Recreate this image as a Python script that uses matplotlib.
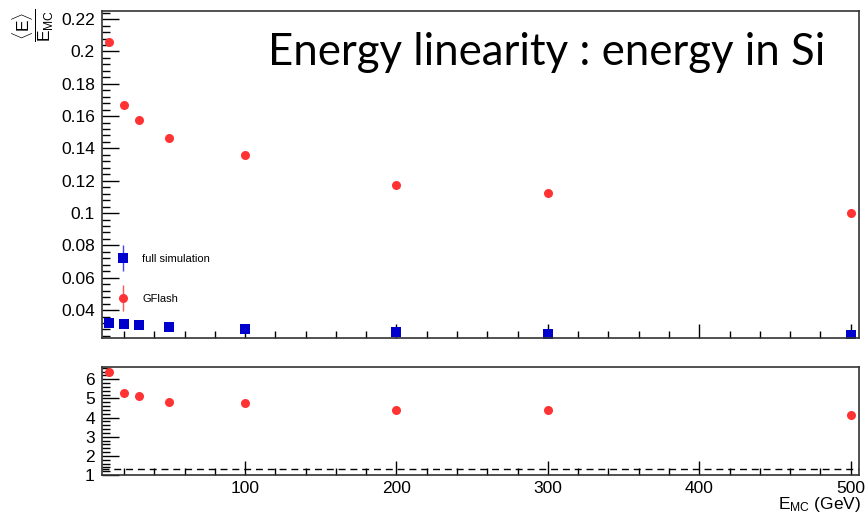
import matplotlib
matplotlib.use("Agg")
import matplotlib.pyplot as plt
from matplotlib.ticker import MultipleLocator, FixedLocator
from matplotlib.legend_handler import HandlerErrorbar
from matplotlib.container import ErrorbarContainer

plt.rcParams['font.family'] = ['Liberation Sans', 'DejaVu Sans']
plt.rcParams['mathtext.fontset'] = 'custom'
plt.rcParams['mathtext.rm'] = 'Liberation Sans'
plt.rcParams['mathtext.it'] = 'Liberation Sans'
plt.rcParams['mathtext.sf'] = 'Liberation Sans'

# ---- data ----
energy = [10, 20, 30, 50, 100, 200, 300, 500]
full_sim = [0.0318, 0.0311, 0.0307, 0.0297, 0.0281, 0.0264, 0.0253, 0.0245]
gflash = [0.2056, 0.1668, 0.1575, 0.1464, 0.1358, 0.1173, 0.1123, 0.0999]
ratio = [6.36, 5.27, 5.10, 4.83, 4.75, 4.39, 4.40, 4.14]
ratio_ref = 1.33
x_ticks = [100, 200, 300, 400, 500]
top_yticks = [0.04, 0.06, 0.08, 0.1, 0.12, 0.14, 0.16, 0.18, 0.2, 0.22]
top_ylabels = ['0.04', '0.06', '0.08', '0.1', '0.12', '0.14', '0.16', '0.18', '0.2', '0.22']
bot_yticks = [1, 2, 3, 4, 5, 6]

RED = '#ff3333'
BLUE = '#0000cc'

fig = plt.figure(figsize=(8.66, 5.15), dpi=100)
W, H = 866, 515
left, right = 101.7 / W, 859.3 / W
ax1 = fig.add_axes([left, 1 - 338 / H, right - left, (338 - 10.7) / H])
ax2 = fig.add_axes([left, 1 - 475 / H, right - left, (475 - 367.3) / H])

xlim = (5.3, 505.7)

e1 = ax1.errorbar(energy, full_sim, yerr=[0] * len(energy), fmt='s', color=BLUE,
                  ecolor='#4444ee', elinewidth=1, ms=7, mew=0, label='full simulation')
e2 = ax1.errorbar(energy, gflash, yerr=[0] * len(energy), fmt='o', color=RED,
                  ecolor='#ff5555', elinewidth=1, ms=6.5, mew=0, label='GFlash')
ax1.set_xlim(*xlim)
ax1.set_ylim(0.0227, 0.2252)

ax2.plot(energy, ratio, 'o', color=RED, ms=6.5, mew=0)
ax2.axhline(ratio_ref, color='black', lw=1, ls=(0, (5, 3.5)))
ax2.set_xlim(*xlim)
ax2.set_ylim(1.0, 6.625)

for ax in (ax1, ax2):
    for s in ax.spines.values():
        s.set_color('#333333')
        s.set_linewidth(1.2)
    ax.xaxis.set_major_locator(FixedLocator(x_ticks))
    ax.xaxis.set_minor_locator(MultipleLocator(20))
    ax.tick_params(axis='both', which='both', direction='in', top=False, right=False,
                   labelsize=12.5, pad=5, colors='black')
    ax.tick_params(axis='y', which='major', length=12, width=1)
    ax.tick_params(axis='y', which='minor', length=6, width=1)
    ax.tick_params(axis='x', which='major', length=10, width=1)
    ax.tick_params(axis='x', which='minor', length=5, width=1)

ax1.yaxis.set_major_locator(FixedLocator(top_yticks))
ax1.set_yticklabels(top_ylabels)
ax1.yaxis.set_minor_locator(MultipleLocator(0.004))
ax1.tick_params(axis='x', labelbottom=False)

ax2.yaxis.set_major_locator(FixedLocator(bot_yticks))
ax2.yaxis.set_minor_locator(MultipleLocator(0.2))
ax2.set_xticklabels([str(v) for v in x_ticks])
ax2.tick_params(axis='x', pad=4)

leg = ax1.legend(handles=[e1, e2], loc='upper left', bbox_to_anchor=(0.0067, 0.287),
                 frameon=False, fontsize=8, labelspacing=2.67, handlelength=1.1,
                 handletextpad=1.2,
                 handler_map={ErrorbarContainer: HandlerErrorbar(xerr_size=0.5, yerr_size=1.15)})

fig.text(268 / W, 1 - 65 / H, 'Energy linearity : energy in Si', fontsize=31.5,
         family=['Lato', 'DejaVu Sans'], ha='left', va='baseline')

fig.text(33 / W, 1 - 9 / H, r'$\dfrac{\langle\mathrm{E}\rangle}{\mathrm{E}_{\mathrm{MC}}}$',
         rotation=90, fontsize=12.5, ha='center', va='top')

fig.text(861 / W, 1 / H, r'$\mathrm{E}_{\mathrm{MC}}$ (GeV)', fontsize=12.5,
         ha='right', va='bottom')

fig.savefig('out.png', dpi=100)
